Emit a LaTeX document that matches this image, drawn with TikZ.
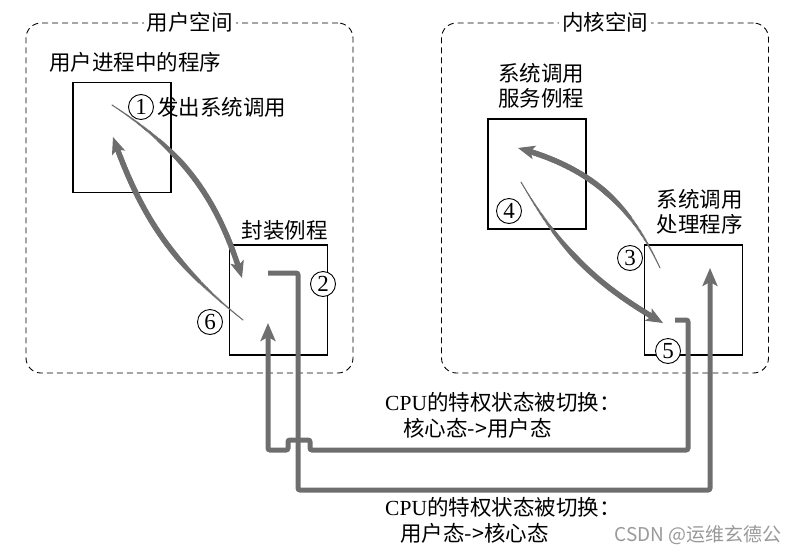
\documentclass[tikz,border=0pt]{standalone}
\usepackage{fontspec}
\setmainfont{Liberation Serif}
\newfontfamily\cjk{Noto Sans CJK SC}
\usetikzlibrary{positioning,arrows.meta,decorations.markings}
\definecolor{flowgray}{RGB}{110,110,110}

\tikzset{
  space/.style={draw, dash pattern=on 6pt off 4pt, line width=0.9pt, rounded corners=15pt,
    minimum width=327pt, minimum height=350pt},
  title/.style={fill=white, inner sep=3pt, font=\cjk\fontsize{21.5}{25}\selectfont},
  routine/.style={draw, line width=1.5pt, minimum width=98pt, minimum height=110pt},
  txt/.style={inner sep=1pt, align=center, font=\cjk\fontsize{21.5}{25}\selectfont},
  num/.style={circle, draw, fill=white, line width=0.9pt, inner sep=0pt, minimum size=25pt,
    font=\fontsize{23}{23}\selectfont},
  bow/.style={draw=flowgray, line width=1pt, -{Stealth[length=17pt,width=14pt,inset=4pt]},
    postaction={decorate},
    decoration={markings, mark=between positions 0 and -12pt step 1.5pt with
      {\fill[flowgray] (0,0) circle ({min(2.9pt,0.4pt+0.04pt*\pgfkeysvalueof{/pgf/decoration/mark info/sequence number})});}}},
  switch/.style={draw=flowgray, line width=5pt, rounded corners=2pt,
    -{Stealth[length=18pt,width=15pt,inset=4pt]}},
  note/.style={anchor=west, inner sep=0pt, font=\fontsize{21.5}{26}\selectfont}
}

\begin{document}
\begin{tikzpicture}[x=1pt,y=-1pt]
  \useasboundingbox (0,0) rectangle (799,554);

  % the two spaces
  \node[space] (user) at (189.5,198) {};
  \node[space] (kernel) at (605,198) {};
  \node[title] at (user.north) {用户空间};
  \node[title] at (kernel.north) {内核空间};

  % routines
  \node[routine] (prog) at (122,137.5) {};
    \node[txt] [above=8pt of prog, xshift=13pt] {用户进程中的程序};
  \node[routine] (wrap) at (278.5,300) {};
    \node[txt] [above=3pt of wrap, xshift=6pt] {封装例程};
  \node[routine] (serv) at (537,174) {};
    \node[txt] [above=9pt of serv, xshift=4pt] {系统调用\\服务例程};
  \node[routine] (handler) at (693.5,300) {};
    \node[txt] [above=9pt of handler, xshift=6pt] {系统调用\\处理程序};

  % calls and returns
  \coordinate (call) at (112,105);
  \coordinate (call_in) at (242,278);
  \coordinate (back) at (243,320);
  \coordinate (back_in) at (113,137);
  \coordinate (dispatch) at (660,268);
  \coordinate (dispatch_in) at (518,148);
  \coordinate (done) at (521,182);
  \coordinate (done_in) at (663,323);
  \draw[bow] (call) to[bend left=20] (call_in);
  \draw[bow] (back) to[bend left=16] (back_in);
  \draw[bow] (dispatch) to[bend right=25] (dispatch_in);
  \draw[bow] (done) to[bend right=15] (done_in);

  % privilege switches
  \coordinate (trap) at (268,273);
  \coordinate (trap_in) at (710,268);
  \coordinate (ret) at (675,320);
  \coordinate (ret_in) at (268,323);
  \draw[switch] (trap) -| (298,490) -| (trap_in);
  \draw[switch] (ret) -| (688,450) -- (310,450) |- (288,440) -- (288,450) -| (ret_in);

  \node[note] (to_user) at (385,402) {CPU\cjk 的特权状态被切换：};
    \node[note] at (403,428) {\cjk 核心态->用户态};
  \node[note] (to_kernel) at (385,507) {CPU\cjk 的特权状态被切换：};
    \node[note] at (400,533) {\cjk 用户态->核心态};

  % step numbers
  \node[num] (n1) at (141,107) {1};
    \node[txt] [right=2pt of n1] {发出系统调用};
  \node[num] (n2) at (323,284) {2};
  \node[num] (n3) at (630,258) {3};
  \node[num] (n4) at (509,211) {4};
  \node[num] (n5) at (668,351) {5};
  \node[num] (n6) at (210,322) {6};

  \node[font=\cjk\fontsize{19}{19}\selectfont, text=black!40] (mark) at (698,535) {CSDN @运维玄德公};
\end{tikzpicture}
\end{document}
